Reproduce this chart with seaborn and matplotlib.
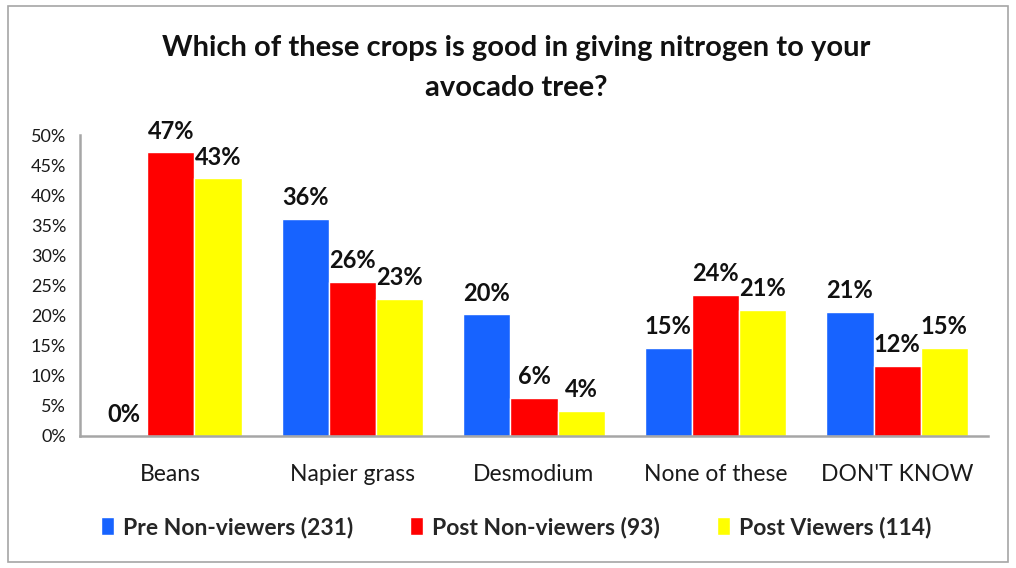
import matplotlib
matplotlib.use("Agg")
import matplotlib.pyplot as plt
from matplotlib.patches import Rectangle
import seaborn as sns
import pandas as pd

categories = ["Beans", "Napier grass", "Desmodium", "None of these", "DON'T KNOW"]
groups = ["Pre Non-viewers (231)", "Post Non-viewers (93)", "Post Viewers (114)"]
pre_non_viewers = [0.0, 36.1, 20.2, 14.6, 20.6]
post_non_viewers = [47.1, 25.6, 6.3, 23.5, 11.6]
post_viewers = [42.8, 22.8, 4.2, 20.9, 14.7]
colors = ["#1763FF", "#FF0000", "#FFFF00"]
y_ticks = [0, 5, 10, 15, 20, 25, 30, 35, 40, 45, 50]

rows = []
for grp, vals in zip(groups, [pre_non_viewers, post_non_viewers, post_viewers]):
    for cat, v in zip(categories, vals):
        rows.append({"category": cat, "group": grp, "value": v / 100.0})
df = pd.DataFrame(rows)

sns.set_style("white")
plt.rcParams["font.family"] = ["Lato", "DejaVu Sans"]

fig = plt.figure(figsize=(10.16, 5.68), dpi=100)
ax = fig.add_axes([0.0787, 0.2324, 0.8937, 0.5299])

sns.barplot(data=df, x="category", y="value", hue="group", order=categories,
            hue_order=groups, palette=colors, width=0.78, saturation=1,
            errorbar=None, ax=ax, legend=True)

ax.set_ylim(0, 0.5)
ax.set_yticks([t / 100 for t in y_ticks])
ax.set_yticklabels([f"{t}%" for t in y_ticks], fontsize=13, color="#1a1a1a")
ax.tick_params(axis="x", labelsize=16.5, colors="#1a1a1a", pad=20, length=0)
ax.tick_params(axis="y", length=0, pad=10)
ax.set_xlabel("")
ax.set_ylabel("")
for s in ["top", "right"]:
    ax.spines[s].set_visible(False)
for s in ["left", "bottom"]:
    ax.spines[s].set_color("#A6A6A6")
    ax.spines[s].set_linewidth(1.8)
ax.set_xlim(-0.5, len(categories) - 0.5)

for container in ax.containers:
    ax.bar_label(container, labels=[f"{round(b.get_height() * 100):.0f}%" for b in container],
                 padding=7, fontsize=17, fontweight="bold", color="#111111")

handles, labels = ax.get_legend_handles_labels()
ax.legend_.remove()
leg = fig.legend(handles, labels, loc="center", bbox_to_anchor=(0.508, 0.072), ncol=3,
                 frameon=False, handlelength=0.55, handleheight=0.85, handletextpad=0.4,
                 columnspacing=2.5, prop={"weight": "bold", "size": 16.5})

fig.text(0.508, 0.915, "Which of these crops is good in giving nitrogen to your",
         ha="center", va="center", fontsize=21, fontweight="bold", color="#111111")
fig.text(0.508, 0.845, "avocado tree?",
         ha="center", va="center", fontsize=21, fontweight="bold", color="#111111")

fig.patches.append(Rectangle((0.008, 0.011), 0.984, 0.979, transform=fig.transFigure,
                             fill=False, edgecolor="#A6A6A6", linewidth=1.2))

fig.savefig("out.png", dpi=100)
